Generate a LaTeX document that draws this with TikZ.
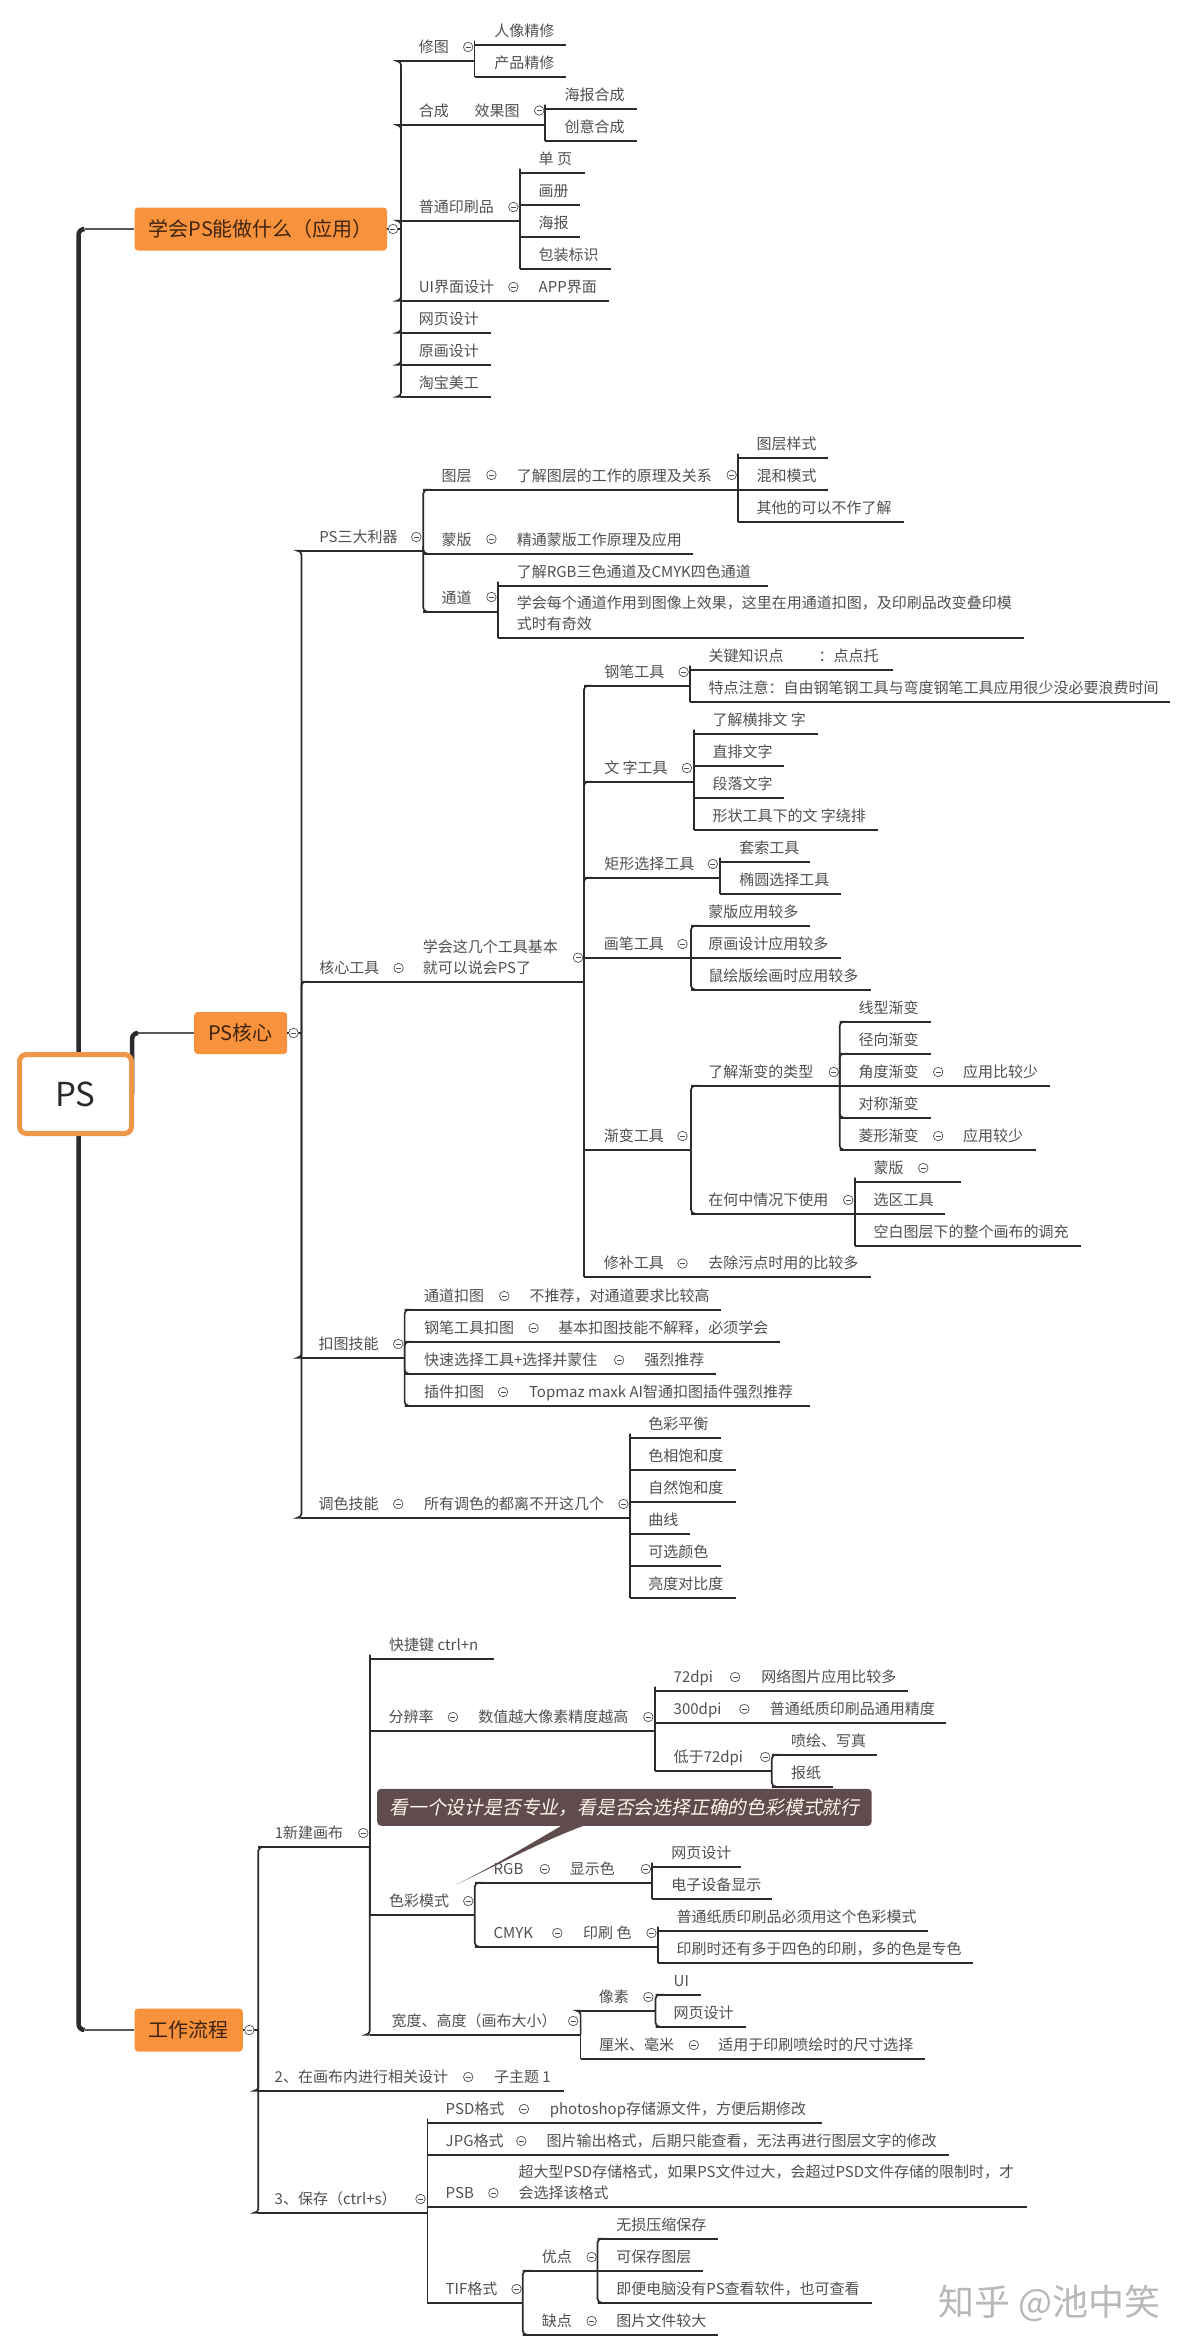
\documentclass[tikz,border=0pt]{standalone}
\usepackage{fontspec}
\setmainfont{Noto Sans CJK SC}
\usetikzlibrary{backgrounds}
\definecolor{ink}{HTML}{2D2A2E}
\definecolor{txt}{HTML}{505050}
\definecolor{orng}{HTML}{F8923C}
\definecolor{rootc}{HTML}{EF9748}
\definecolor{calloutc}{HTML}{604C4D}
\newcount\auxn
\newfontfamily\calloutfont[FakeSlant=0.2]{Noto Sans CJK SC}
\tikzset{
 ln/.style={inner sep=0pt,outer sep=0pt,minimum height=0pt,text height=0pt,text depth=0pt,anchor=west},
 jn/.style={inner sep=0pt,outer sep=0pt,minimum size=0pt},
 ul/.style={draw=ink,line width=1.7pt},
 conn/.style={draw=ink,line width=1.7pt,rounded corners=4pt},
 lbl/.style={inner sep=0pt,outer sep=0pt,anchor=west,align=left,text=txt,text height=12pt,text depth=1pt,font=\fontsize{15}{21}\selectfont},
 mkc/.style={circle,draw=txt,fill=white,line width=.7pt,inner sep=0pt,minimum size=9.5pt,
   path picture={\draw[txt,line width=.7pt] ([xshift=-2.5pt]path picture bounding box.center) -- ([xshift=2.5pt]path picture bounding box.center);}},
 obox/.style={fill=orng,rounded corners=3.5pt,inner sep=0pt,anchor=west,text=black!75!orng,font=\fontsize{20}{22}\selectfont},
 rootbox/.style={draw=rootc,fill=white,line width=5pt,rounded corners=7pt,inner sep=0pt,minimum width=112pt,minimum height=79pt,text=ink,font=\fontsize{33}{36}\selectfont},
 rootln/.style={draw=ink,line width=4.5pt,rounded corners=6pt},
 thinln/.style={draw=black!65,line width=1.1pt},
 coline/.style={draw=ink,line width=1.1pt},
 cobox/.style={fill=calloutc,rounded corners=4pt,inner sep=0pt,minimum width=494.5pt,minimum height=37pt,anchor=west,text=white!93!orange,font=\calloutfont\fontsize{18.8}{22}\selectfont},
 wmk/.style={inner sep=0pt,anchor=west,text=black!28,font=\fontsize{36}{40}\selectfont},
}
\def\xo{0}
\newcommand\fx[2]{\pgfmathsetmacro#1{\xo+((#2)-\xo)*0.9949}}
% topic with an elbow connector from its parent
\newcommand\tpc[7]{%
 \fx\xa{#3}\fx\xb{#4}\fx\xt{#6}%
 \node[ln,minimum width={\xb-\xa}] (#1) at (\xa,#5) {};
 \draw[ul] (#1.west)--(#1.east);
 \draw[conn] (#2.east) |- (#1.west);
 \node[lbl] (#1-t) at (\xt,#5-14) {#7};}
% topic on the same row as its parent
\newcommand\tps[7]{%
 \fx\xa{#3}\fx\xb{#4}\fx\xt{#6}%
 \node[ln,minimum width={\xb-\xa}] (#1) at (\xa,#5) {};
 \draw[ul] (#1.west)--(#1.east);
 \draw[ul] (#2.east) -- (#1.west);
 \node[lbl] (#1-t) at (\xt,#5-14) {#7};}
\newcommand\mk[2]{\global\advance\auxn by 1 \fx\xm{#1}\node[mkc] (m\the\auxn) at (\xm,#2) {};}
\begin{document}
\begin{tikzpicture}[x=1pt,y=-1pt]
\useasboundingbox (0,0) rectangle (1188,2351);
% --- main boxes
\node[rootbox] (root) at (75.5,1094) {PS};
\node[obox,minimum width=252.5pt,minimum height=43pt] (bxa) at (134.3,229) {学会PS能做什么（应用）\hspace{8pt}};
\node[obox,minimum width=93pt,minimum height=42pt] (bxb) at (194,1033) {PS核心};
\node[obox,minimum width=108.3pt,minimum height=43pt] (bxc) at (134.3,2030) {工作流程};
\node[jn] (rta) at (78.5,1094) {};
\node[jn] (rtb) at (132,1094) {};
\node[jn] (ca) at (84.5,229) {};
\node[jn] (cb) at (138,1033) {};
\node[jn] (cc) at (84.5,2030) {};
\node[jn] (j1) at (401,229) {};
\node[jn] (j2) at (301.4,1033) {};
\node[jn] (j3) at (258.3,2030) {};
\begin{scope}[on background layer]
 \fill[white] (0,0) rectangle (1188,2351);
 \draw[rootln] (rta) |- (ca);
 \draw[rootln] (rta) |- (cc);
 \draw[rootln] (rtb) |- (cb);
 \draw[thinln] (ca) -- (bxa.west);
 \draw[thinln] (cb) -- (bxb.west);
 \draw[thinln] (cc) -- (bxc.west);
\end{scope}
\draw[coline] (bxa.east) -- (j1);
\draw[coline] (bxb.east) -- (j2);
\draw[coline] (bxc.east) -- (j3);
% --- section A
\def\xo{0}
\tpc{a1}{j1}{403}{477}{61}{421}{修图}
\tpc{a11}{a1}{477}{569}{44.7}{497}{人像精修}
\tpc{a12}{a1}{477}{569}{76.7}{497}{产品精修}
\mk{470.6}{47}
\tpc{a2}{j1}{403}{472}{125}{421}{合成}
\tps{a2b}{a2}{472}{548}{125}{477}{效果图}
\tpc{a21}{a2b}{548}{640}{108.7}{567.5}{海报合成}
\tpc{a22}{a2b}{548}{640}{140.7}{567.5}{创意合成}
\mk{542}{110.5}
\tpc{a3}{j1}{403}{523}{220.7}{421}{普通印刷品}
\tpc{a31}{a3}{523}{588}{172.7}{541.5}{单 页}
\tpc{a32}{a3}{523}{583}{204.7}{541.5}{画册}
\tpc{a33}{a3}{523}{583}{236.7}{541.5}{海报}
\tpc{a34}{a3}{523}{614}{268.7}{541.5}{包装标识}
\mk{516}{207}
\tpc{a4}{j1}{403}{521}{300.7}{421}{UI界面设计}
\tps{a41}{a4}{521}{612}{300.7}{541.5}{APP界面}
\mk{516}{287}
\tpc{a5}{j1}{403}{493.5}{332.7}{421}{网页设计}
\tpc{a6}{j1}{403}{493.5}{364.7}{421}{原画设计}
\tpc{a7}{j1}{403}{493.5}{396.7}{421}{淘宝美工}
\mk{395}{229}
% --- section B
\def\xo{280}
\tpc{p1}{j2}{301.5}{424}{550.7}{319.6}{PS三大利器}
\mk{417}{537}
\tpc{p11}{p1}{424}{512}{489.7}{442.4}{图层}
\tps{p11b}{p11}{512}{740.4}{489.7}{518}{了解图层的工作的原理及关系}
\mk{492.5}{475}\mk{734}{475}
\tpc{p111}{p11b}{740.4}{831}{457.7}{759}{图层样式}
\tps{p112}{p11b}{740.4}{831}{489.7}{759}{混和模式}
\tpc{p113}{p11b}{740.4}{907}{521.7}{759}{其他的可以不作了解}
\tpc{p12}{p1}{424}{512}{553.7}{442.4}{蒙版}
\tps{p12b}{p12}{512}{695.6}{553.7}{518}{精通蒙版工作原理及应用}
\mk{492.5}{539}
\tpc{p13}{p1}{424}{499.4}{611.7}{442.4}{通道}
\mk{492.5}{597}
\tpc{p131}{p13}{499.4}{770}{585.7}{518}{了解RGB三色通道及CMYK四色通道}
\tpc{p132}{p13}{499.4}{1028}{637.7}{518}{学会每个通道作用到图像上效果，这里在用通道扣图，及印刷品改变叠印模\\式时有奇效}
\def\xo{0}
\tpc{c0}{j2}{303}{412}{981.7}{321}{核心工具}
\tps{c0b}{c0}{412}{587}{981.7}{425}{学会这几个工具基本\\就可以说会PS了}
\mk{400.6}{968}\mk{581}{957.7}
\def\xo{280}
\tpc{c1}{c0b}{586}{692}{685.7}{606}{钢笔工具}
\mk{685.7}{672}
\tpc{c11}{c1}{692}{896}{669.7}{710.7}{关键知识点\hspace{35pt}：点点托}
\tpc{c12}{c1}{692}{1175}{701.7}{710.7}{特点注意：自由钢笔钢工具与弯度钢笔工具应用很少没必要浪费时间}
\tpc{c2}{c0b}{586}{696}{781.7}{606}{文 字工具}
\mk{689}{768}
\tpc{c21}{c2}{696}{821}{733.7}{714.8}{了解横排文 字}
\tpc{c22}{c2}{696}{787}{765.7}{714.8}{直排文字}
\tpc{c23}{c2}{696}{787}{797.7}{714.8}{段落文字}
\tpc{c24}{c2}{696}{881}{829.7}{714.8}{形状工具下的文 字绕排}
\tpc{c3}{c0b}{586}{722}{877.7}{606}{矩形选择工具}
\mk{715}{864}
\tpc{c31}{c3}{722}{813}{861.7}{741.6}{套索工具}
\tpc{c32}{c3}{722}{843.5}{893.7}{741.6}{椭圆选择工具}
\def\xo{0}
\tpc{c4}{c0b}{587}{694.6}{957.7}{607}{画笔工具}
\mk{686}{944}
\tpc{c41}{c4}{694.6}{814.5}{925.7}{712}{蒙版应用较多}
\tps{c42}{c4}{694.6}{845}{957.7}{712}{原画设计应用较多}
\tpc{c43}{c4}{694.6}{875}{989.7}{712}{鼠绘版绘画时应用较多}
\tpc{c5}{c0b}{587}{694.6}{1149.7}{607}{渐变工具}
\mk{686}{1136}
\tpc{c51}{c5}{694.6}{844}{1085.7}{712}{了解渐变的类型}
\mk{838}{1072}
\tpc{c511}{c51}{844}{936}{1021.7}{863}{线型渐变}
\tpc{c512}{c51}{844}{936}{1053.7}{863}{径向渐变}
\tps{c513}{c51}{844}{949}{1085.7}{863}{角度渐变}
\tps{c513b}{c513}{949}{1055.7}{1085.7}{968}{应用比较少}
\mk{943}{1072}
\tpc{c514}{c51}{844}{936}{1117.7}{863}{对称渐变}
\tpc{c515}{c51}{844}{949}{1149.7}{863}{菱形渐变}
\tps{c515b}{c515}{949}{1041.6}{1149.7}{968}{应用较少}
\mk{943}{1136}
\tpc{c52}{c5}{694.6}{859.6}{1213.7}{712}{在何中情况下使用}
\mk{852.6}{1200}
\tpc{c521}{c52}{859.6}{965.5}{1181.7}{878}{蒙版}
\mk{928}{1168}
\tps{c522}{c52}{859.6}{950}{1213.7}{878}{选区工具}
\tpc{c523}{c52}{859.6}{1086.7}{1245.7}{878}{空白图层下的整个画布的调充}
\tpc{c6}{c0b}{587}{694.6}{1277.3}{607}{修补工具}
\tps{c61}{c6}{694.6}{875}{1277.3}{712}{去除污点时用的比较多}
\mk{686}{1263.5}
\mk{295}{1033}
\def\xo{250}
\tpc{d0}{j2}{301.5}{405.4}{1357.7}{319}{扣图技能}
\mk{399}{1344}
\tpc{d1}{d0}{405.4}{512}{1309.7}{425}{通道扣图}
\tps{d1b}{d1}{512}{723}{1309.7}{531}{不推荐，对通道要求比较高}
\mk{505.6}{1296}
\tpc{d2}{d0}{405.4}{541}{1341.7}{425}{钢笔工具扣图}
\tps{d2b}{d2}{541}{783}{1341.7}{560}{基本扣图技能不解释，必须学会}
\mk{535}{1328}
\tpc{d3}{d0}{405.4}{627}{1373.7}{425}{快速选择工具+选择并蒙住}
\tps{d3b}{d3}{627}{718.7}{1373.7}{646.4}{强烈推荐}
\mk{621}{1360}
\tpc{d4}{d0}{405.4}{510}{1405.7}{425}{插件扣图}
\tps{d4b}{d4}{510}{812.6}{1405.7}{530.5}{Topmaz maxk AI智通扣图插件强烈推荐}
\mk{504.4}{1392}
\tpc{e0}{j2}{301.5}{405}{1517.7}{319}{调色技能}
\tps{e0b}{e0}{405}{632}{1517.7}{425}{所有调色的都离不开这几个}
\mk{399}{1504}\mk{625.4}{1504}
\tpc{e1}{e0b}{632}{723}{1437.7}{650.5}{色彩平衡}
\tpc{e2}{e0b}{632}{738}{1469.7}{650.5}{色相饱和度}
\tpc{e3}{e0b}{632}{738}{1501.7}{650.5}{自然饱和度}
\tpc{e4}{e0b}{632}{692.6}{1533.7}{650.5}{曲线}
\tpc{e5}{e0b}{632}{723}{1565.7}{650.5}{可选颜色}
\tpc{e6}{e0b}{632}{738}{1597.7}{650.5}{亮度对比度}
% --- section C
\def\xo{230}
\tpc{f1}{j3}{258.5}{370.5}{1847}{275}{1新建画布}
\mk{364}{1833}
\tpc{f11}{f1}{370.5}{495.6}{1658.7}{390}{快捷键 ctrl+n}
\tpc{f12}{f1}{370.5}{460}{1730.7}{389.5}{分辨率}
\tps{f12b}{f12}{460}{657}{1730.7}{479.7}{数值越大像素精度越高}
\mk{454}{1717}\mk{650.5}{1717}
\tpc{f121}{f12b}{657}{744}{1690.7}{676}{72dpi}
\tps{f121b}{f121}{744}{911}{1690.7}{764}{网络图片应用比较多}
\mk{737.7}{1677}
\tpc{f122}{f12b}{657}{753}{1722.7}{676}{300dpi}
\tps{f122b}{f122}{753}{950}{1722.7}{772.6}{普通纸质印刷品通用精度}
\mk{747}{1709}
\tpc{f123}{f12b}{657}{774.6}{1770.7}{676}{低于72dpi}
\mk{768}{1757}
\tpc{f1231}{f123}{774.6}{880.8}{1754.7}{794}{喷绘、写真}
\tpc{f1232}{f123}{774.6}{835.6}{1786.7}{794}{报纸}
\tpc{f13}{f1}{370.5}{476}{1914.7}{390}{色彩模式}
\mk{469.5}{1901}
\tpc{f131}{f13}{476}{552}{1882.7}{495}{RGB}
\tps{f131b}{f131}{552}{654}{1882.7}{571.5}{显示色}
\mk{546.4}{1869}\mk{648}{1869}
\tpc{f1311}{f131b}{654}{744}{1866.7}{673.6}{网页设计}
\tpc{f1312}{f131b}{654}{775}{1898.7}{673.6}{电子设备显示}
\tpc{f132}{f13}{476}{565}{1946.7}{495}{CMYK}
\tps{f132b}{f132}{565}{660}{1946.7}{585}{印刷 色}
\mk{559}{1933}\mk{653.6}{1933}
\tpc{f1321}{f132b}{660}{932}{1930.7}{679}{普通纸质印刷品必须用这个色彩模式}
\tpc{f1322}{f132b}{660}{977}{1962.7}{679}{印刷时还有多于四色的印刷，多的色是专色}
\def\xo{120}
\tpc{f14}{f1}{371}{583}{2034.7}{393}{宽度、高度（画布大小）}
\mk{575.5}{2021}
\def\xo{230}
\tpc{f141}{f14}{582}{657.7}{2010.7}{600.8}{像素}
\mk{650.5}{1997}
\tpc{f1411}{f141}{657.7}{703.8}{1994.7}{676}{UI}
\tpc{f1412}{f141}{657.7}{748.8}{2026.7}{676}{网页设计}
\def\xo{120}
\tpc{f142}{f14}{583}{702}{2058.7}{601.5}{厘米、毫米}
\tps{f142b}{f142}{702}{929.6}{2058.7}{721.4}{适用于印刷喷绘时的尺寸选择}
\mk{696.7}{2045}
\tpc{f2}{j3}{259}{476}{2090.7}{275.5}{2、在画布内进行相关设计}
\tps{f2b}{f2}{476}{566}{2090.7}{496}{子主题 1}
\mk{470}{2077}
\tpc{f3}{j3}{259}{429}{2212.7}{275.5}{3、保存（ctrl+s）}
\mk{422}{2199}
\tpc{f31}{f3}{429}{532}{2122.7}{447.4}{PSD格式}
\tps{f31b}{f31}{532}{826}{2122.7}{552}{photoshop存储源文件，方便后期修改}
\mk{526}{2109}
\tpc{f32}{f3}{429}{529}{2154.7}{447.4}{JPG格式}
\tps{f32b}{f32}{529}{953}{2154.7}{548.8}{图片输出格式，后期只能查看，无法再进行图层文字的修改}
\mk{523.4}{2141}
\tpc{f33}{f3}{429}{501}{2206.7}{447.4}{PSB}
\tps{f33b}{f33}{501}{1031.6}{2206.7}{520.7}{超大型PSD存储格式，如果PS文件过大，会超过PSD文件存储的限制时，才\\会选择该格式}
\mk{495.3}{2193}
\tpc{f34}{f3}{429}{524.8}{2302.7}{447.4}{TIF格式}
\mk{518.6}{2289}
\tpc{f341}{f34}{524.8}{600}{2270.7}{544}{优点}
\mk{594}{2257}
\tpc{f3411}{f341}{600}{721.4}{2238.7}{619}{无损压缩保存}
\tps{f3412}{f341}{600}{706}{2270.7}{619}{可保存图层}
\tpc{f3413}{f341}{600}{875.5}{2302.7}{619}{即便电脑没有PS查看软件，也可查看}
\tpc{f342}{f34}{524.8}{600}{2334.7}{544}{缺点}
\tps{f342b}{f342}{600}{721.4}{2334.7}{619}{图片文件较大}
\mk{594}{2321}
\mk{250}{2030}
% --- callout
\node[cobox] (co) at (377,1807.3) {看一个设计是否专业，看是否会选择正确的色彩模式就行};
\coordinate (cotip) at (455,1885);
\fill[calloutc] ([xshift=184pt]co.south west) .. controls (525,1847) and (490,1868) .. (cotip) .. controls (498,1865) and (540,1842) .. ([xshift=206pt]co.south west) -- cycle;
% --- watermark
\node[wmk] (wm) at (938,2303) {知乎 @池中笑};
\end{tikzpicture}
\end{document}
